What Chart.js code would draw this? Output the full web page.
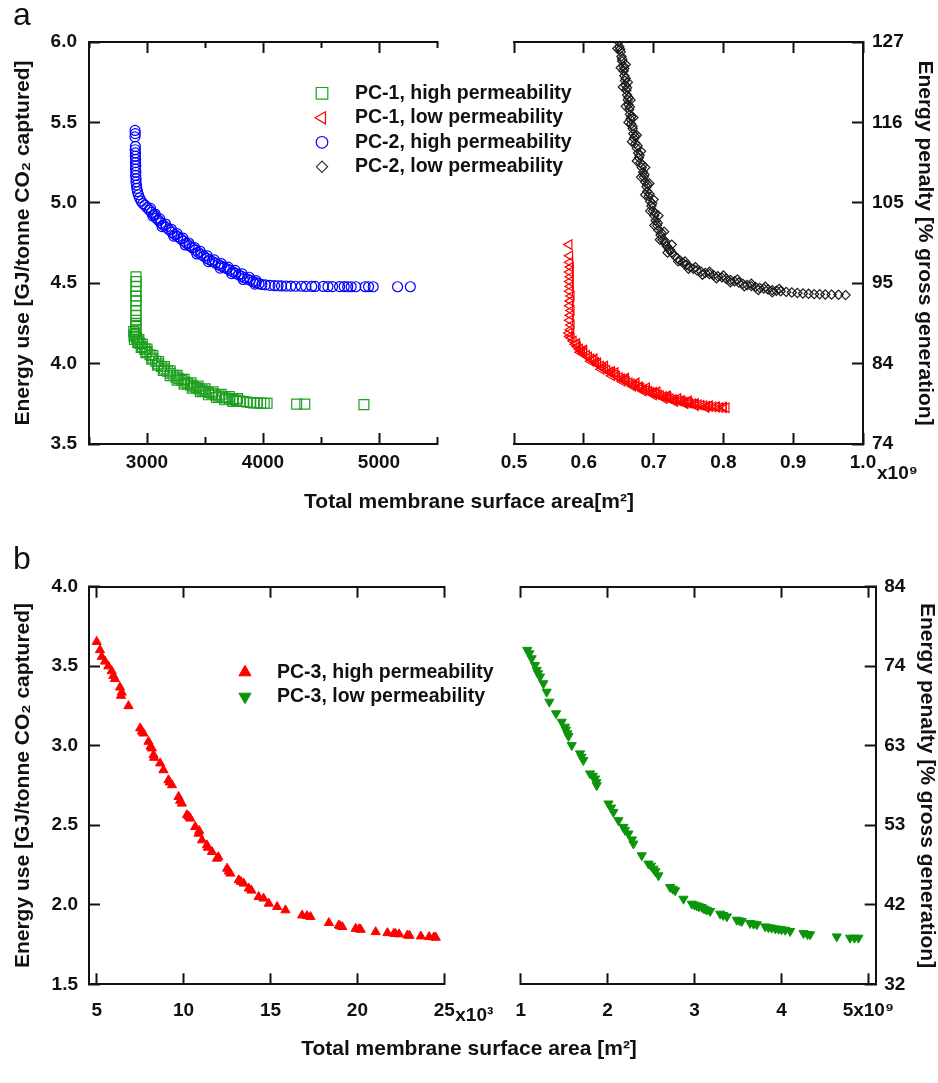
<!DOCTYPE html>
<html>
<head>
<meta charset="utf-8">
<script src="https://cdn.jsdelivr.net/npm/chart.js@4.4.1/dist/chart.umd.min.js"></script>
<style>
  html, body { margin: 0; padding: 0; background: #ffffff; }
  body { width: 938px; height: 1083px; position: relative; overflow: hidden; }
  .panel { position: absolute; left: 0; width: 938px; }
  .panel canvas { position: absolute; left: 0; top: 0; }
</style>
</head>
<body>
<div class="panel" style="top:0;height:540px;">
  <canvas id="aL" width="938" height="540"></canvas>
  <canvas id="aR" width="938" height="540"></canvas>
</div>
<div class="panel" style="top:540px;height:543px;">
  <canvas id="bL" width="938" height="543"></canvas>
  <canvas id="bR" width="938" height="543"></canvas>
</div>
<script>
// ================= DATA =================
// Panel a, left plot: x = total membrane area [m2], y = energy use [GJ/tonne CO2]
const pc1HighX = [2905,2907,2904,2906,2903,2907,2905,2904,2906,2905,2903,2904,2906,2902,
  2885,2888,2892,
  2895,2910,2925,2940,2960,2980,3000,3025,3050,3075,3100,3125,3150,3175,3200,3225,3250,3275,3300,3325,3350,3375,3400,3425,3450,3475,3500,3530,3560,3590,3620,3650,3680,3710,3740,3770,3800,3830,3860,3890,3920,3950,3980,4010,4035,4290,4360,4870,
  2930,2960,3000,3050,3100,3150,3200,3260,3320,3380,3440,3500,3570,3640,3710,3780,
  2920,2950,2990,3040,3090,3140,3200,3260,3320,3390,3460,3530,3600,3670,3740];
const pc1HighY = [4.54,4.51,4.48,4.45,4.42,4.39,4.36,4.33,4.30,4.27,4.25,4.23,4.21,4.19,
  4.20,4.17,4.15,
  4.18,4.16,4.14,4.125,4.105,4.09,4.075,4.055,4.035,4.015,3.998,3.982,3.967,3.953,3.94,3.927,3.916,3.906,3.896,3.885,3.876,3.867,3.859,3.851,3.843,3.835,3.828,3.82,3.812,3.805,3.798,3.792,3.786,3.781,3.776,3.771,3.767,3.764,3.761,3.758,3.756,3.755,3.754,3.753,3.753,3.748,3.748,3.745,
  4.15,4.12,4.09,4.05,4.013,3.982,3.955,3.927,3.902,3.88,3.861,3.843,3.825,3.809,3.795,3.783,
  4.13,4.10,4.068,4.028,3.99,3.958,3.925,3.897,3.872,3.847,3.825,3.806,3.789,3.775,3.764];

const pc2HighX = [2897,2899,2896,2900,2898,2901,2899,2902,2900,2903,2901,2904,2902,2906,2905,2909,2912,2918,2926,2936,2950,2965,2982,3000,
  3020,3040,3060,3080,3100,3120,3140,3165,3190,3215,3240,3265,3290,3315,3340,3365,3390,3415,3440,3465,3490,3515,3540,3565,3590,3615,3640,3665,3690,3715,3740,3765,3790,3815,3840,3865,3890,3915,3940,3965,3990,
  4020,4060,4100,4130,4160,4200,4240,4280,4330,4370,4420,4450,4520,4560,4600,4660,4700,4730,4760,4800,4880,4910,4950,5160,5270,
  3030,3070,3110,3160,3210,3260,3310,3360,3410,3460,3520,3580,3640,3700,3760,3820,3880,3940,
  3050,3130,3230,3330,3430,3530,3630,3730,3830,3930];
const pc2HighY = [5.45,5.43,5.41,5.35,5.33,5.31,5.29,5.27,5.25,5.23,5.21,5.19,5.17,5.15,5.13,5.11,5.09,5.07,5.05,5.03,5.01,4.995,4.985,4.97,
  4.955,4.94,4.925,4.905,4.89,4.875,4.862,4.848,4.832,4.817,4.803,4.79,4.776,4.762,4.748,4.733,4.72,4.706,4.692,4.68,4.668,4.655,4.645,4.635,4.625,4.616,4.607,4.598,4.589,4.581,4.571,4.562,4.552,4.543,4.534,4.526,4.518,4.51,4.503,4.497,4.492,
  4.49,4.487,4.485,4.484,4.483,4.482,4.482,4.481,4.481,4.48,4.48,4.48,4.48,4.479,4.479,4.479,4.479,4.478,4.478,4.478,4.478,4.478,4.478,4.478,4.478,
  4.965,4.93,4.9,4.868,4.835,4.808,4.78,4.75,4.722,4.698,4.67,4.645,4.622,4.6,4.58,4.558,4.537,4.516,
  4.918,4.852,4.793,4.738,4.682,4.634,4.594,4.56,4.523,4.494];

// Panel a, right plot: x = total membrane area [x10^9 m2], y = energy use [GJ/tonne CO2]
const pc1LowX = [0.579,0.580,0.580,0.581,0.580,0.581,0.580,0.581,0.580,0.582,0.581,0.580,0.582,0.581,0.580,0.582,0.581,0.579,0.580,0.582,
  0.585,0.588,0.591,0.594,0.597,0.600,0.604,0.607,0.610,0.613,0.617,0.620,0.624,0.627,0.630,0.633,0.637,0.640,0.644,0.647,0.651,0.654,0.658,0.661,0.665,0.668,0.672,0.675,0.679,0.682,0.686,0.689,0.693,0.696,0.700,0.703,0.707,0.710,0.714,0.717,0.721,0.724,0.728,0.731,0.735,0.738,0.742,0.745,0.749,0.752,0.756,0.760,0.764,0.768,0.772,0.776,0.780,0.785,0.790,0.795,0.800,0.804,
  0.590,0.600,0.615,0.630,0.645,0.660,0.675,0.690,0.705,0.720,0.735,0.750,
  0.595,0.610,0.625,0.640,0.655,0.670,0.685,0.700,0.715,0.730,0.745,0.760,0.775,
  0.600,0.620,0.640,0.660,0.680,0.700,0.720,0.740,0.760,0.780,0.790,0.800];
const pc1LowY = [4.74,4.67,4.63,4.60,4.57,4.54,4.51,4.48,4.45,4.42,4.39,4.36,4.33,4.30,4.27,4.24,4.21,4.19,4.17,4.16,
  4.14,4.12,4.105,4.09,4.077,4.065,4.052,4.04,4.03,4.02,4.007,3.995,3.985,3.975,3.966,3.958,3.948,3.94,3.93,3.922,3.913,3.905,3.897,3.889,3.881,3.874,3.867,3.86,3.852,3.846,3.839,3.833,3.827,3.821,3.815,3.81,3.805,3.8,3.795,3.79,3.785,3.781,3.777,3.773,3.769,3.766,3.762,3.759,3.756,3.753,3.75,3.747,3.744,3.741,3.738,3.735,3.733,3.731,3.729,3.727,3.726,3.725,
  4.125,4.085,4.03,3.985,3.945,3.91,3.88,3.85,3.825,3.8,3.783,3.768,
  4.07,4.015,3.965,3.925,3.89,3.86,3.83,3.805,3.783,3.765,3.75,3.738,3.728,
  4.075,4.005,3.95,3.898,3.855,3.822,3.792,3.77,3.752,3.738,3.732,3.73];

const pc2LowX = [0.650,0.651,0.653,0.654,0.655,0.657,0.657,0.658,0.659,0.660,0.661,0.662,0.663,0.664,0.665,0.666,0.667,0.668,0.670,0.671,
  0.672,0.674,0.676,0.678,0.679,0.681,0.683,0.685,0.686,0.688,0.690,0.691,0.693,0.695,0.697,0.699,0.701,0.703,0.705,0.707,
  0.710,0.713,0.716,0.719,0.722,0.726,0.730,0.734,0.738,0.742,0.747,0.752,0.757,0.762,0.768,0.774,0.780,0.786,0.792,0.798,
  0.804,0.810,0.816,0.822,0.828,0.834,0.840,0.846,0.852,0.858,0.864,0.870,0.876,0.882,0.890,0.898,0.906,0.914,0.922,0.930,
  0.938,0.946,0.955,0.965,0.975,
  0.660,0.663,0.667,0.671,0.676,0.682,0.688,0.694,0.700,0.707,0.715,0.726,0.745,0.760,0.780,0.800,0.820,0.840,0.860,0.880,
  0.648,0.653,0.656,0.660,0.664,0.669,0.676,0.682,0.688,0.695,0.701,0.709,0.720,0.735,0.750,0.770,0.790,0.810,0.830,0.850,0.870,
  0.652,0.655,0.658,0.660,0.662,0.664,0.666,0.668,0.670,0.673,0.677,0.680,0.684,0.687,0.691,0.694,0.698,0.702,0.706,0.711,0.717,0.724];
const pc2LowY = [6.00,5.97,5.94,5.91,5.88,5.85,5.82,5.79,5.76,5.73,5.70,5.67,5.64,5.61,5.58,5.55,5.52,5.49,5.46,5.43,
  5.40,5.37,5.34,5.31,5.28,5.25,5.22,5.19,5.16,5.13,5.10,5.07,5.04,5.01,4.98,4.95,4.92,4.89,4.86,4.83,
  4.80,4.77,4.75,4.73,4.71,4.69,4.67,4.655,4.64,4.627,4.614,4.60,4.59,4.58,4.572,4.564,4.557,4.55,4.543,4.536,
  4.528,4.52,4.512,4.504,4.496,4.489,4.482,4.476,4.471,4.466,4.461,4.457,4.453,4.45,4.446,4.442,4.439,4.436,4.434,4.432,
  4.431,4.43,4.429,4.428,4.426,
  5.86,5.75,5.64,5.53,5.42,5.32,5.22,5.12,5.02,4.92,4.82,4.74,4.635,4.60,4.572,4.548,4.523,4.497,4.478,4.465,
  5.96,5.84,5.72,5.60,5.50,5.38,5.26,5.16,5.05,4.95,4.86,4.77,4.69,4.636,4.59,4.553,4.53,4.505,4.48,4.458,4.443,
  5.955,5.895,5.835,5.775,5.715,5.655,5.595,5.535,5.475,5.415,5.355,5.295,5.235,5.175,5.115,5.055,4.995,4.935,4.875,4.815,4.76,4.705];

// Panel b, left plot: x = total membrane area [x10^3 m2]
const pc3HighX = [5.0,5.19,5.29,5.48,5.67,5.86,5.96,6.34,6.44,6.83,7.5,7.69,7.98,8.17,8.27,8.65,8.84,9.13,9.33,9.71,
  9.9,10.19,10.38,10.67,10.86,11.06,11.34,11.63,11.92,12.5,12.69,13.17,13.46,13.75,14.32,14.9,15.38,15.86,16.82,17.3,
  18.36,18.93,19.13,19.9,20.19,21.05,21.73,22.1,22.4,22.88,23.65,24.13,24.51,
  6.05,6.4,7.6,8.1,8.3,9.2,9.8,10.3,10.9,11.4,12.0,12.6,13.3,13.9,14.6,17.1,19.0,20.1,22.2,23.0,24.4];
const pc3HighY = [3.654,3.602,3.56,3.53,3.50,3.47,3.44,3.367,3.335,3.25,3.11,3.078,3.026,2.984,2.942,2.89,2.847,2.784,2.753,2.679,
  2.637,2.564,2.543,2.49,2.448,2.406,2.375,2.333,2.291,2.228,2.197,2.155,2.134,2.103,2.05,2.008,1.987,1.966,1.934,1.924,
  1.886,1.871,1.861,1.85,1.844,1.829,1.823,1.819,1.815,1.808,1.802,1.798,1.794,
  3.42,3.315,3.09,2.995,2.925,2.77,2.655,2.555,2.465,2.36,2.3,2.21,2.145,2.09,2.04,1.93,1.866,1.847,1.817,1.806,1.796];

// Panel b, right plot: x = total membrane area [x10^9 m2]
const pc3LowX = [1.076,1.126,1.164,1.184,1.222,1.261,1.299,1.33,1.407,1.472,1.51,1.537,1.587,1.683,1.721,1.798,1.856,1.875,2.01,2.067,
  2.125,2.182,2.24,2.297,2.393,2.47,2.528,2.585,2.719,2.777,2.873,2.969,3.026,3.084,3.141,3.18,3.295,3.372,3.487,3.544,
  3.64,3.717,3.813,3.889,3.966,4.043,4.1,4.254,4.33,4.637,4.79,4.886,
  1.1,1.2,1.52,1.55,1.7,1.83,1.87,2.04,2.2,2.28,2.5,2.55,2.75,3.0,3.05,3.11,3.33,3.52,3.68,3.85,3.93,4.0,4.3,4.84];
const pc3LowY = [3.602,3.549,3.507,3.476,3.434,3.392,3.339,3.276,3.203,3.15,3.119,3.077,3.003,2.951,2.909,2.825,2.793,2.751,2.636,2.583,
  2.531,2.489,2.447,2.384,2.31,2.258,2.226,2.184,2.111,2.09,2.037,2.006,1.995,1.985,1.968,1.96,1.943,1.926,1.905,1.897,
  1.884,1.876,1.863,1.855,1.848,1.842,1.834,1.821,1.813,1.8,1.792,1.792,
  3.58,3.455,3.1,3.06,2.93,2.81,2.77,2.61,2.47,2.41,2.245,2.21,2.1,2.0,1.99,1.975,1.935,1.9,1.88,1.858,1.85,1.845,1.815,1.792];

// Labels / tick labels
const seriesA = ['PC-1, high permeability', 'PC-1, low permeability', 'PC-2, high permeability', 'PC-2, low permeability'];
const seriesB = ['PC-3, high permeability', 'PC-3, low permeability'];
const penaltyTicksA = ['74', '84', '95', '105', '116', '127'];
const penaltyTicksB = ['32', '42', '53', '63', '74', '84'];
const yTitleLeft = 'Energy use [GJ/tonne CO\u2082 captured]';
const yTitleRight = 'Energy penalty [% gross generation]';
const xTitleA = 'Total membrane surface area[m\u00B2]';
const xTitleB = 'Total membrane surface area [m\u00B2]';

// ================= STYLE =================
const INK = '#111111';
const FONT = "'Liberation Sans', Arial, Helvetica, sans-serif";
const GREEN_A = '#1f9f1f';
const GREEN_B = '#0c950c';
const RED = '#ff0000';
const BLUE = '#0000ff';
const DARK = '#1c1c1c';
Chart.defaults.font.family = FONT;
Chart.defaults.color = INK;

function pts(xs, ys) { return xs.map((x, i) => ({ x: x, y: ys[i] })); }
function fix(size) { return function (s) { if (s.isHorizontal()) { s.height = size; } else { s.width = size; } }; }

function frameX(o) {
  const grid = { display: true, drawOnChartArea: false, drawTicks: true, tickLength: -11, tickWidth: 2, tickColor: INK };
  if (o.minorEvery) {
    grid.tickBorderDash = function (ctx) {
      if (!ctx.tick) return [];
      const r = Math.abs(ctx.tick.value % o.minorEvery);
      const minor = r > 1e-6 && Math.abs(r - o.minorEvery) > 1e-6;
      if (!minor) return [];
      return o.position === 'top' ? [0, 5, 8, 40] : [8, 40];
    };
  }
  return {
    type: 'linear', axis: 'x', position: o.position, min: o.min, max: o.max,
    afterFit: fix(o.size),
    border: { display: true, width: 2, color: INK },
    grid: grid,
    ticks: {
      display: !!o.label, stepSize: o.step, autoSkip: false, maxRotation: 0, minRotation: 0,
      includeBounds: false, padding: o.pad || 0, color: INK,
      font: { size: 19, weight: 'bold' },
      callback: o.label || function () { return ''; }
    }
  };
}
function frameY(o) {
  return {
    type: 'linear', axis: 'y', position: o.position, min: o.min, max: o.max,
    afterFit: fix(o.size),
    border: { display: true, width: 2, color: INK },
    grid: { display: true, drawOnChartArea: false, drawTicks: true, tickLength: -11, tickWidth: 2, tickColor: INK },
    ticks: { stepSize: o.step, autoSkip: false, includeBounds: false, padding: o.pad, color: INK,
      font: { size: 19, weight: 'bold' }, callback: o.label },
    title: { display: true, text: o.title, color: INK, font: { size: 21, weight: 'bold', lineHeight: 1 },
      padding: { top: o.tpad, bottom: 0 } }
  };
}
function spacer(position, size) {
  return {
    type: 'linear', axis: (position === 'left' || position === 'right') ? 'y' : 'x', position: position,
    display: true, afterFit: fix(size),
    grid: { display: false, drawTicks: false }, border: { display: false }, ticks: { display: false }
  };
}

// Legend marker drawing (uses Chart.js point helper when available)
function drawMarker(ctx, it, x, y) {
  ctx.save();
  ctx.strokeStyle = it.color;
  ctx.fillStyle = it.filled ? it.color : 'rgba(0,0,0,0)';
  ctx.lineWidth = it.lw;
  const h = Chart.helpers;
  if (h && typeof h.drawPoint === 'function') {
    h.drawPoint(ctx, { pointStyle: it.style, rotation: it.rot || 0, radius: it.r, borderWidth: it.lw }, x, y);
  } else {
    const r = it.r, rad = (it.rot || 0) * Math.PI / 180;
    ctx.beginPath();
    if (it.style === 'circle') { ctx.arc(x, y, r, 0, Math.PI * 2); }
    else if (it.style === 'rect') { const s = Math.SQRT1_2 * r; ctx.rect(x - s, y - s, 2 * s, 2 * s); }
    else if (it.style === 'rectRot') { ctx.moveTo(x - r, y); ctx.lineTo(x, y - r); ctx.lineTo(x + r, y); ctx.lineTo(x, y + r); ctx.closePath(); }
    else if (it.style === 'triangle') {
      let a = rad;
      ctx.moveTo(x + Math.sin(a) * r, y - Math.cos(a) * r);
      a += 2 * Math.PI / 3; ctx.lineTo(x + Math.sin(a) * r, y - Math.cos(a) * r);
      a += 2 * Math.PI / 3; ctx.lineTo(x + Math.sin(a) * r, y - Math.cos(a) * r);
      ctx.closePath();
    }
    ctx.fill(); ctx.stroke();
  }
  ctx.restore();
}

const insetLegend = {
  id: 'insetLegend',
  afterDraw(chart, args, o) {
    if (!o || !o.items || !o.items.length) return;
    const ctx = chart.ctx;
    for (let i = 0; i < o.items.length; i++) {
      const it = o.items[i];
      const y = o.y + i * o.dy;
      drawMarker(ctx, it, o.markerX, y);
      ctx.save();
      ctx.font = o.font;
      ctx.fillStyle = INK;
      ctx.textAlign = 'left';
      ctx.textBaseline = 'middle';
      ctx.fillText(it.label, o.textX, y);
      ctx.restore();
    }
  }
};

const axisNote = {
  id: 'axisNote',
  afterDraw(chart, args, o) {
    if (!o || !o.text) return;
    const s = chart.scales[o.scale];
    if (!s) return;
    const ctx = chart.ctx;
    ctx.save();
    ctx.font = 'bold 19px ' + FONT;
    ctx.fillStyle = INK;
    ctx.textAlign = 'left';
    ctx.textBaseline = 'middle';
    ctx.fillText(o.text, s.getPixelForValue(o.value) + o.dx, s.top + o.dy);
    ctx.restore();
  }
};

function baseOptions() {
  return { responsive: false, maintainAspectRatio: false, animation: false, events: [] };
}
function hollow(label, data, style, r, color, rot) {
  return { label: label, data: data, pointStyle: style, pointRadius: r, pointRotation: rot || 0,
    borderColor: color, backgroundColor: 'rgba(0,0,0,0)', pointBorderWidth: 1.2, borderWidth: 1.2,
    showLine: false, xAxisID: 'x', yAxisID: 'y' };
}
function solid(label, data, style, r, color, rot) {
  return { label: label, data: data, pointStyle: style, pointRadius: r, pointRotation: rot || 0,
    borderColor: color, backgroundColor: color, pointBorderWidth: 1, borderWidth: 1,
    showLine: false, xAxisID: 'x', yAxisID: 'y' };
}

// ================= PANEL a, left =================
new Chart(document.getElementById('aL'), {
  type: 'scatter',
  data: { datasets: [
    hollow(seriesA[0], pts(pc1HighX, pc1HighY), 'rect', 7, GREEN_A),
    hollow(seriesA[2], pts(pc2HighX, pc2HighY), 'circle', 5, BLUE)
  ] },
  options: Object.assign(baseOptions(), {
    layout: { padding: { left: 13, right: 13, top: 0, bottom: 25.4 } },
    scales: {
      x: frameX({ position: 'bottom', min: 2500, max: 5500, step: 500, size: 45.4, pad: 18.3, minorEvery: 1000,
        label: function (v) { return v % 1000 === 0 ? String(v) : ''; } }),
      xTop: frameX({ position: 'top', min: 2500, max: 5500, step: 500, size: 10, minorEvery: 1000 }),
      y: frameY({ position: 'left', min: 3.5, max: 6, step: 0.5, size: 76, pad: 23, tpad: 0, title: yTitleLeft,
        label: function (v) { return v.toFixed(1); } }),
      yPad: spacer('right', 488)
    },
    plugins: {
      legend: { display: false }, tooltip: { enabled: false },
      title: { display: true, text: 'a', position: 'top', align: 'start', color: INK,
        font: { size: 32, weight: 'normal', lineHeight: 1 }, padding: { top: 0, bottom: 0 } },
      subtitle: { display: true, text: xTitleA, position: 'bottom', align: 'center', color: INK,
        font: { size: 21, weight: 'bold' }, padding: { top: 0, bottom: 0 } },
      insetLegend: { markerX: 322, textX: 355, y: 93.3, dy: 24.5, font: 'bold 19.5px ' + FONT, items: [
        { label: seriesA[0], style: 'rect', r: 8.2, rot: 0, color: GREEN_A, filled: false, lw: 1.2 },
        { label: seriesA[1], style: 'triangle', r: 7, rot: -90, color: RED, filled: false, lw: 1.2 },
        { label: seriesA[2], style: 'circle', r: 5.8, rot: 0, color: BLUE, filled: false, lw: 1.2 },
        { label: seriesA[3], style: 'rectRot', r: 5.6, rot: 0, color: '#333333', filled: false, lw: 1.2 }
      ] }
    }
  }),
  plugins: [insetLegend]
});

// ================= PANEL a, right =================
new Chart(document.getElementById('aR'), {
  type: 'scatter',
  data: { datasets: [
    hollow(seriesA[1], pts(pc1LowX, pc1LowY), 'triangle', 5.5, RED, -90),
    hollow(seriesA[3], pts(pc2LowX, pc2LowY), 'rectRot', 4.6, DARK)
  ] },
  options: Object.assign(baseOptions(), {
    layout: { padding: 0 },
    scales: {
      x: frameX({ position: 'bottom', min: 0.5, max: 1.0, step: 0.1, size: 96, pad: 18.3,
        label: function (v) { return v.toFixed(1); } }),
      xTop: frameX({ position: 'top', min: 0.5, max: 1.0, step: 0.1, size: 42 }),
      y: frameY({ position: 'right', min: 3.5, max: 6, step: 0.5, size: 75, pad: 20, tpad: 2.5, title: yTitleRight,
        label: function (v, i) { return penaltyTicksA[i]; } }),
      yPad: spacer('left', 514)
    },
    plugins: {
      legend: { display: false }, tooltip: { enabled: false },
      axisNote: { scale: 'x', value: 1.0, text: 'x10\u2079', dx: 14, dy: 30 }
    }
  }),
  plugins: [axisNote]
});

// ================= PANEL b, left =================
new Chart(document.getElementById('bL'), {
  type: 'scatter',
  data: { datasets: [
    solid(seriesB[0], pts(pc3HighX, pc3HighY), 'triangle', 5.3, RED, 0)
  ] },
  options: Object.assign(baseOptions(), {
    layout: { padding: { left: 13, right: 13, top: 0, bottom: 21.4 } },
    scales: {
      x: frameX({ position: 'bottom', min: 4.557, max: 25, step: 5, size: 52.1, pad: 26.3,
        label: function (v) { return String(v); } }),
      xTop: frameX({ position: 'top', min: 4.557, max: 25, step: 5, size: 10.2 }),
      y: frameY({ position: 'left', min: 1.5, max: 4, step: 0.5, size: 76, pad: 22, tpad: 0, title: yTitleLeft,
        label: function (v) { return v.toFixed(1); } }),
      yPad: spacer('right', 480.7)
    },
    plugins: {
      legend: { display: false }, tooltip: { enabled: false },
      title: { display: true, text: 'b', position: 'top', align: 'start', color: INK,
        font: { size: 32, weight: 'normal', lineHeight: 1 }, padding: { top: 4.5, bottom: 0 } },
      subtitle: { display: true, text: xTitleB, position: 'bottom', align: 'center', color: INK,
        font: { size: 21, weight: 'bold' }, padding: { top: 0, bottom: 0 } },
      insetLegend: { markerX: 245, textX: 277, y: 132.3, dy: 24.4, font: 'bold 19.5px ' + FONT, items: [
        { label: seriesB[0], style: 'triangle', r: 7, rot: 0, color: RED, filled: true, lw: 1 },
        { label: seriesB[1], style: 'triangle', r: 7, rot: 180, color: GREEN_B, filled: true, lw: 1 }
      ] },
      axisNote: { scale: 'x', value: 25, text: 'x10\u00B3', dx: 11, dy: 31.7 }
    }
  }),
  plugins: [insetLegend, axisNote]
});

// ================= PANEL b, right =================
new Chart(document.getElementById('bR'), {
  type: 'scatter',
  data: { datasets: [
    solid(seriesB[1], pts(pc3LowX, pc3LowY), 'triangle', 5.3, GREEN_B, 180)
  ] },
  options: Object.assign(baseOptions(), {
    layout: { padding: 0 },
    scales: {
      x: frameX({ position: 'bottom', min: 1, max: 5.085, step: 1, size: 98.7, pad: 26.3,
        label: function (v) { return v === 5 ? '5x10\u2079' : String(v); } }),
      xTop: frameX({ position: 'top', min: 1, max: 5.085, step: 1, size: 46.7 }),
      y: frameY({ position: 'right', min: 1.5, max: 4, step: 0.5, size: 62.3, pad: 19.6, tpad: 0.8, title: yTitleRight,
        label: function (v, i) { return penaltyTicksB[i]; } }),
      yPad: spacer('left', 520.7)
    },
    plugins: { legend: { display: false }, tooltip: { enabled: false } }
  })
});
</script>
</body>
</html>
